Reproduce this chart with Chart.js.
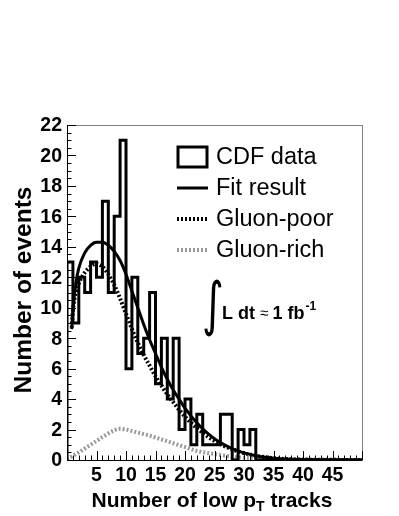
<!DOCTYPE html>
<html>
<head>
<meta charset="utf-8">
<script src="https://cdn.jsdelivr.net/npm/chart.js@4.4.1/dist/chart.umd.min.js"></script>
<style>
  body { margin: 0; background: #fff; }
  #wrap { width: 399px; height: 516px; }
</style>
</head>
<body>
<div id="wrap"><canvas id="chart" width="399" height="516"></canvas></div>
<script>
// CDF data, one value per unit bin starting at 0
const binCounts = [13, 9, 12, 11, 13, 12, 17, 11, 16, 21, 6, 12, 7, 8, 11, 5, 8, 4, 8, 2,
                   4, 1, 3, 1, 1, 1, 3, 3, 0, 2, 1, 2, 0, 0, 0, 0, 0, 0, 0, 0,
                   0, 0, 0, 0, 0, 0, 0, 0, 0, 0];

const fitX = [0.8, 1, 1.5, 2, 3, 4, 5, 6, 7, 8, 9, 10, 11, 12, 13, 14, 15, 16, 17, 18, 19, 20,
              21, 22, 23, 24, 25, 26, 27, 28, 29, 30, 32, 34, 36, 38, 40, 45, 50];
const fitY = [8.6, 9.8, 11.6, 12.6, 13.6, 14.1, 14.3, 14.3, 14.1, 13.7, 13.1, 12.2, 11.1, 10.0, 8.9,
              7.9, 7.0, 6.1, 5.3, 4.6, 4.0, 3.4, 2.9, 2.45, 2.05, 1.7, 1.4, 1.15, 0.93, 0.75, 0.6,
              0.47, 0.28, 0.16, 0.09, 0.05, 0.03, 0.01, 0];

const poorX = [0.8, 1, 1.5, 2, 3, 4, 5, 6, 7, 8, 9, 10, 11, 12, 13, 14, 15, 16, 17, 18, 19, 20,
               21, 22, 23, 24, 25, 26, 27, 28, 29, 30, 32, 34, 36, 38, 40, 45, 50];
const poorY = [8.7, 9.8, 11.0, 11.6, 12.3, 12.7, 12.9, 12.7, 12.2, 11.5, 10.6, 9.6, 8.6, 7.7, 6.9,
               6.2, 5.5, 4.9, 4.3, 3.8, 3.3, 2.85, 2.45, 2.1, 1.8, 1.5, 1.25, 1.05, 0.85, 0.7, 0.56,
               0.45, 0.28, 0.16, 0.09, 0.05, 0.03, 0.01, 0];

const richX = [0, 2, 4, 6, 8, 9, 10, 12, 14, 16, 18, 20, 22, 24, 26, 28, 30, 32, 34, 36, 40, 45, 50];
const richY = [0.05, 0.5, 1.0, 1.5, 1.95, 2.05, 2.0, 1.8, 1.6, 1.35, 1.1, 0.85, 0.6, 0.45, 0.33,
               0.22, 0.14, 0.08, 0.05, 0.03, 0.01, 0, 0];

const yTicks = [0, 2, 4, 6, 8, 10, 12, 14, 16, 18, 20, 22];
const xTicks = [5, 10, 15, 20, 25, 30, 35, 40, 45];
const legendLabels = ['CDF data', 'Fit result', 'Gluon-poor', 'Gluon-rich'];

const histPoints = [{ x: 0, y: 0 }];
binCounts.forEach((c, i) => histPoints.push({ x: i, y: c }));
histPoints.push({ x: binCounts.length, y: 0 });

const toPts = (xs, ys) => xs.map((x, i) => ({ x: x, y: ys[i] }));

const sans = '"Liberation Sans", Arial, sans-serif';

// ROOT-style frame, inward ticks, labels, legend and text
const rootStyle = {
    id: 'rootStyle',
    afterDraw(chart) {
        const { ctx, chartArea: a, scales } = chart;
        const xs = scales.x, ys = scales.y;
        ctx.save();

        // frame
        ctx.lineWidth = 1;
        ctx.strokeStyle = '#808080';
        ctx.strokeRect(a.left + 0.5, a.top + 0.5, a.right - a.left, a.bottom - a.top);
        ctx.strokeStyle = '#000';
        ctx.beginPath();
        ctx.moveTo(a.left + 0.5, a.top);
        ctx.lineTo(a.left + 0.5, a.bottom + 0.5);
        ctx.lineTo(a.right, a.bottom + 0.5);
        ctx.stroke();

        // y ticks
        ctx.beginPath();
        for (let v = 0; v <= 22; v += 0.5) {
            const py = Math.round(ys.getPixelForValue(v)) + 0.5;
            const len = (v % 2 === 0) ? 9 : 4.5;
            ctx.moveTo(a.left, py);
            ctx.lineTo(a.left + len, py);
        }
        // x ticks
        for (let v = 0; v <= 50; v += 1) {
            const px = Math.round(xs.getPixelForValue(v)) + 0.5;
            const len = (v % 5 === 0) ? 9 : 4.5;
            ctx.moveTo(px, a.bottom);
            ctx.lineTo(px, a.bottom - len);
        }
        ctx.stroke();

        // tick labels
        ctx.fillStyle = '#000';
        ctx.font = 'bold 19.5px ' + sans;
        ctx.textAlign = 'right';
        ctx.textBaseline = 'middle';
        yTicks.forEach(v => ctx.fillText(String(v), a.left - 5, ys.getPixelForValue(v) + 1));
        ctx.textAlign = 'center';
        xTicks.forEach(v => ctx.fillText(String(v), xs.getPixelForValue(v), a.bottom + 16));

        // axis titles
        ctx.textAlign = 'left';
        ctx.textBaseline = 'alphabetic';
        const t1 = 'Number of low p', t2 = ' tracks';
        ctx.font = 'bold 21px ' + sans;
        const w1 = ctx.measureText(t1).width;
        const w2 = ctx.measureText(t2).width;
        ctx.font = 'bold 14px ' + sans;
        const wT = ctx.measureText('T').width;
        const tx = 212 - (w1 + wT + w2) / 2;
        const ty = 507;
        ctx.font = 'bold 21px ' + sans;
        ctx.fillText(t1, tx, ty);
        ctx.fillText(t2, tx + w1 + wT, ty);
        ctx.font = 'bold 14px ' + sans;
        ctx.fillText('T', tx + w1, ty + 4);

        ctx.save();
        ctx.translate(31, 290);
        ctx.rotate(-Math.PI / 2);
        ctx.font = 'bold 24.5px ' + sans;
        ctx.textAlign = 'center';
        ctx.fillText('Number of events', 0, 0);
        ctx.restore();

        // legend
        const ds = chart.data.datasets;
        const rows = [157, 188, 219, 250];
        ctx.font = '23.5px ' + sans;
        ctx.textAlign = 'left';
        ctx.textBaseline = 'middle';
        rows.forEach((ry, i) => {
            const d = ds[i];
            ctx.strokeStyle = d.borderColor;
            ctx.lineWidth = d.borderWidth;
            ctx.setLineDash(d.borderDash || []);
            if (i === 0) {
                ctx.strokeRect(178, 147, 29, 20);
            } else {
                ctx.beginPath();
                ctx.moveTo(177, ry);
                ctx.lineTo(208, ry);
                ctx.stroke();
            }
            ctx.setLineDash([]);
            ctx.fillText(legendLabels[i], 216, ry + 1);
        });

        // luminosity
        ctx.save();
        ctx.translate(202, 324);
        ctx.scale(1.1, 1.55);
        ctx.font = '38px "DejaVu Sans", sans-serif';
        ctx.textBaseline = 'alphabetic';
        ctx.fillText('\u222B', 0, 0);
        ctx.restore();
        ctx.textBaseline = 'alphabetic';
        let lx = 222;
        const ly = 319;
        ctx.font = 'bold 18px ' + sans;
        ctx.fillText('L dt ', lx, ly);
        lx += ctx.measureText('L dt ').width;
        ctx.font = '15px ' + sans;
        ctx.fillText('\u2248', lx, ly - 1);
        lx += ctx.measureText('\u2248 ').width;
        ctx.font = 'bold 18px ' + sans;
        ctx.fillText('1 fb', lx, ly);
        lx += ctx.measureText('1 fb').width;
        ctx.font = 'bold 12px ' + sans;
        ctx.fillText('-1', lx + 1, ly - 9);

        ctx.restore();
    }
};

new Chart(document.getElementById('chart').getContext('2d'), {
    type: 'line',
    data: {
        datasets: [
            {
                label: 'CDF data',
                data: histPoints,
                borderColor: '#000',
                borderWidth: 3,
                stepped: true,
                pointRadius: 0,
                fill: false
            },
            {
                label: 'Fit result',
                data: toPts(fitX, fitY),
                borderColor: '#000',
                borderWidth: 3,
                cubicInterpolationMode: 'monotone',
                pointRadius: 0,
                fill: false
            },
            {
                label: 'Gluon-poor',
                data: toPts(poorX, poorY),
                borderColor: '#000',
                borderWidth: 4,
                borderDash: [2, 2],
                cubicInterpolationMode: 'monotone',
                pointRadius: 0,
                fill: false
            },
            {
                label: 'Gluon-rich',
                data: toPts(richX, richY),
                borderColor: '#9a9a9a',
                borderWidth: 4,
                borderDash: [2, 2],
                cubicInterpolationMode: 'monotone',
                pointRadius: 0,
                fill: false
            }
        ]
    },
    options: {
        responsive: false,
        devicePixelRatio: 1,
        animation: false,
        layout: { padding: { left: 67, right: 37, top: 125, bottom: 56 } },
        scales: {
            x: { type: 'linear', min: 0, max: 50, display: false },
            y: { type: 'linear', min: 0, max: 22, display: false }
        },
        plugins: {
            legend: { display: false },
            tooltip: { enabled: false }
        }
    },
    plugins: [rootStyle]
});
</script>
</body>
</html>
